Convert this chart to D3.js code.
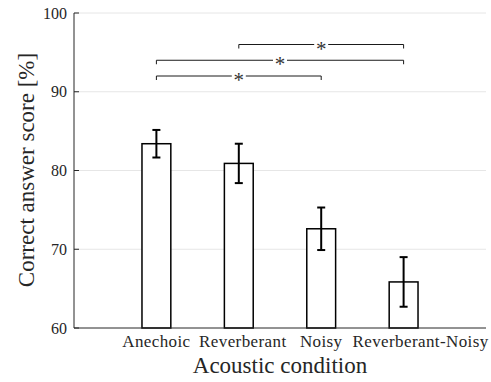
<!DOCTYPE html>
<html>
<head>
<meta charset="utf-8">
<script src="https://cdn.jsdelivr.net/npm/d3@7"></script>
<style>
body { margin: 0; background: #fff; }
text { font-family: "Liberation Serif", "DejaVu Serif", serif; }
</style>
</head>
<body>
<div id="visContainer"></div>
<script>
'use strict';

var categories = ["Anechoic", "Reverberant", "Noisy", "Reverberant-Noisy"];
var means = [83.4, 80.9, 72.6, 65.85];
var errors = [1.75, 2.5, 2.7, 3.15];
var yTicks = [60, 70, 80, 90, 100];
// significance brackets: [from, to, level]
var sigFrom = [0, 0, 1];
var sigTo = [2, 3, 3];
var sigLevel = [92, 94, 96];

function draw_chart() {
    var width = 491, height = 382;
    var margin = {top: 13, right: 5, bottom: 54, left: 74};
    var labelNudge = [0, 4, 0, 17];   // the original's tick labels sit a bit off-centre

    var x = d3.scaleLinear().domain([0, 5]).range([margin.left, width - margin.right]);
    var y = d3.scaleLinear().domain([60, 100]).range([height - margin.bottom, margin.top]);
    var barW = 0.35;

    var svg = d3.select('#visContainer')
        .append("svg")
        .attr('width', width)
        .attr('height', height);

    // grid
    svg.append("g").selectAll("line")
        .data(yTicks.slice(1))
        .enter().append("line")
        .attr("x1", x(0)).attr("x2", x(5))
        .attr("y1", function(d) { return y(d); })
        .attr("y2", function(d) { return y(d); })
        .style("stroke", "#e6e6e6")
        .style("stroke-width", 1);

    // bars
    svg.append("g").selectAll("rect")
        .data(means)
        .enter().append("rect")
        .attr("x", function(d, i) { return x(i + 1 - barW / 2); })
        .attr("width", x(barW) - x(0))
        .attr("y", function(d) { return y(d); })
        .attr("height", function(d) { return y(60) - y(d); })
        .style("fill", "#fff")
        .style("stroke", "#000")
        .style("stroke-width", 1.5);

    // error bars
    var eb = svg.append("g").selectAll("g")
        .data(means)
        .enter().append("g")
        .style("stroke", "#000")
        .style("stroke-width", 2);
    eb.append("line")
        .attr("x1", function(d, i) { return x(i + 1); })
        .attr("x2", function(d, i) { return x(i + 1); })
        .attr("y1", function(d, i) { return y(d - errors[i]); })
        .attr("y2", function(d, i) { return y(d + errors[i]); });
    [-1, 1].forEach(function(s) {
        eb.append("line")
            .attr("x1", function(d, i) { return x(i + 1) - 4; })
            .attr("x2", function(d, i) { return x(i + 1) + 4; })
            .attr("y1", function(d, i) { return y(d + s * errors[i]); })
            .attr("y2", function(d, i) { return y(d + s * errors[i]); });
    });

    // significance brackets
    for (var k = 0; k < sigFrom.length; k++) {
        var xa = x(sigFrom[k] + 1), xb = x(sigTo[k] + 1);
        var yy = y(sigLevel[k]);
        var xm = (xa + xb) / 2;
        var g = svg.append("g").style("stroke", "#1a1a1a").style("stroke-width", 1).style("fill", "none");
        g.append("path").attr("d", "M" + xa + "," + (yy + 4) + "V" + yy + "H" + (xm - 7));
        g.append("path").attr("d", "M" + (xm + 7) + "," + yy + "H" + xb + "V" + (yy + 4));
        svg.append("text")
            .attr("x", xm).attr("y", yy + 11)
            .attr("text-anchor", "middle")
            .style("font-size", "21px")
            .style("fill", "#333")
            .text("*");
    }

    // axes
    svg.append("line")
        .attr("x1", x(0)).attr("x2", x(5))
        .attr("y1", y(60)).attr("y2", y(60))
        .style("stroke", "#262626").style("stroke-width", 1);
    svg.append("line")
        .attr("x1", x(0)).attr("x2", x(0))
        .attr("y1", y(60)).attr("y2", y(100))
        .style("stroke", "#262626").style("stroke-width", 1);

    svg.append("g").selectAll("line")
        .data(yTicks)
        .enter().append("line")
        .attr("x1", x(0)).attr("x2", x(0) + 5)
        .attr("y1", function(d) { return y(d); })
        .attr("y2", function(d) { return y(d); })
        .style("stroke", "#262626");

    svg.append("g").selectAll("text")
        .data(yTicks)
        .enter().append("text")
        .attr("x", x(0) - 7)
        .attr("y", function(d) { return y(d); })
        .attr("dy", "0.35em")
        .attr("text-anchor", "end")
        .style("font-size", "16px")
        .style("fill", "#262626")
        .text(function(d) { return d; });

    svg.append("g").selectAll("text")
        .data(categories)
        .enter().append("text")
        .attr("x", function(d, i) { return x(i + 1) + labelNudge[i]; })
        .attr("y", 347)
        .attr("text-anchor", "middle")
        .style("font-size", "17px")
        .style("letter-spacing", "0.4px")
        .style("fill", "#262626")
        .text(function(d) { return d; });

    svg.append("text")
        .attr("x", 280).attr("y", 373)
        .attr("text-anchor", "middle")
        .style("font-size", "23px")
        .style("fill", "#262626")
        .text("Acoustic condition");

    svg.append("text")
        .attr("transform", "translate(34,170) rotate(-90)")
        .attr("text-anchor", "middle")
        .style("font-size", "23px")
        .style("fill", "#262626")
        .text("Correct answer score [%]");
}

draw_chart();
</script>
</body>
</html>
